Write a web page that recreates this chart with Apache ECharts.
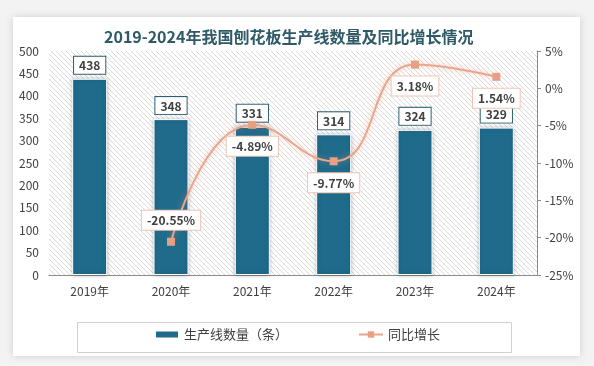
<!DOCTYPE html>
<html><head><meta charset="utf-8">
<script src="https://cdn.jsdelivr.net/npm/echarts@6/dist/echarts.min.js"></script>
<style>html,body{margin:0;padding:0;background:#f3f3f3;}#c{width:594px;height:366px;}</style>
</head><body><div id="c"></div>
<script>
const categories = ['2019年','2020年','2021年','2022年','2023年','2024年'];
const counts = [438, 348, 331, 314, 324, 329];
const growth = [null, -20.55, -4.89, -9.77, 3.18, 1.54];
const leftTicks = [0, 500, 50];
const rightTicks = [-25, 5, 5];

const pc = document.createElement('canvas');
pc.width = 5; pc.height = 5;
const g = pc.getContext('2d');
g.fillStyle = '#ffffff'; g.fillRect(0,0,5,5);
g.strokeStyle = '#dadada'; g.lineWidth = 1;
g.beginPath(); g.moveTo(-1,-1); g.lineTo(6,6); g.stroke();
g.beginPath(); g.moveTo(-1,4); g.lineTo(1,6); g.stroke();
g.beginPath(); g.moveTo(4,-1); g.lineTo(6,1); g.stroke();

const chart = echarts.init(document.getElementById('c'), null, {renderer:'canvas'});
const font = '"Noto Sans CJK SC", "DejaVu Sans", sans-serif';
chart.setOption({
  backgroundColor: '#f3f3f3',
  textStyle: {fontFamily: font},
  graphic: [
    {type:'rect', z:-10, shape:{x:13,y:17,width:567,height:339}, style:{fill:'#ffffff', shadowBlur:8, shadowColor:'rgba(0,0,0,0.15)'}},
    {type:'rect', z:-9, shape:{x:49,y:51,width:488,height:224}, style:{fill:{image:pc, repeat:'repeat'}}},
    {type:'rect', z:-5, shape:{x:77.5,y:322.5,width:434,height:30}, style:{fill:'none', stroke:'#d0d0d0', lineWidth:1}}
  ],
  title: {text:'2019-2024年我国刨花板生产线数量及同比增长情况', left:99, top:24,
    textStyle:{fontFamily:font, fontSize:16, fontWeight:'bold', color:'#2e5a68'}},
  legend: {bottom:20, left:'center', itemGap:70, itemWidth:24, itemHeight:8,
    textStyle:{fontSize:13, color:'#404040', fontFamily:font},
    data:[{name:'生产线数量（条）', icon:'rect'}, {name:'同比增长'}]},
  grid: {left:49, right:57, top:51, bottom:91},
  xAxis: {type:'category', data:categories,
    axisLine:{lineStyle:{color:'#8c8c8c'}}, axisTick:{show:false},
    axisLabel:{color:'#404040', fontSize:12, margin:10}},
  yAxis: [
    {type:'value', min:leftTicks[0], max:leftTicks[1], interval:leftTicks[2],
      splitLine:{show:false}, axisLine:{show:false}, axisTick:{show:false},
      axisLabel:{color:'#404040', fontSize:12, margin:10}},
    {type:'value', min:rightTicks[0], max:rightTicks[1], interval:rightTicks[2],
      splitLine:{show:false}, axisLine:{show:true, lineStyle:{color:'#8c8c8c'}},
      axisTick:{show:true, length:4, lineStyle:{color:'#8c8c8c'}},
      axisLabel:{color:'#404040', fontSize:12, margin:8, formatter:'{value}%'}}
  ],
  series: [
    {name:'生产线数量（条）', type:'bar', data:counts, barWidth:35,
      itemStyle:{color:'#1f6b8c', borderColor:'#ffffff', borderWidth:1, shadowBlur:4, shadowColor:'rgba(0,0,0,0.25)'},
      label:{show:true, position:'top', distance:5, color:'#404040', fontSize:12, fontWeight:'bold',
        backgroundColor:'#ffffff', borderColor:'#2e5f70', borderWidth:1, padding:[3,5,2,5]}},
    {name:'同比增长', type:'line', yAxisIndex:1, smooth:true,
      symbol:'rect', symbolSize:8,
      lineStyle:{color:'#eaa58c', width:2, shadowBlur:6, shadowColor:'rgba(235,150,120,0.6)'},
      itemStyle:{color:'#e8a083'},
      label:{show:true, formatter: p => p.value.toFixed(2)+'%', color:'#404040', fontSize:12, fontWeight:'bold',
        backgroundColor:'#ffffff', borderColor:'#f0c4b4', borderWidth:1, padding:[4,5,3,5],
        position:'bottom', distance:8},
      data: growth.map((v,i)=> i===1 ? {value:v, label:{position:'top', distance:8}} : v)}
  ]
});
</script></body></html>
